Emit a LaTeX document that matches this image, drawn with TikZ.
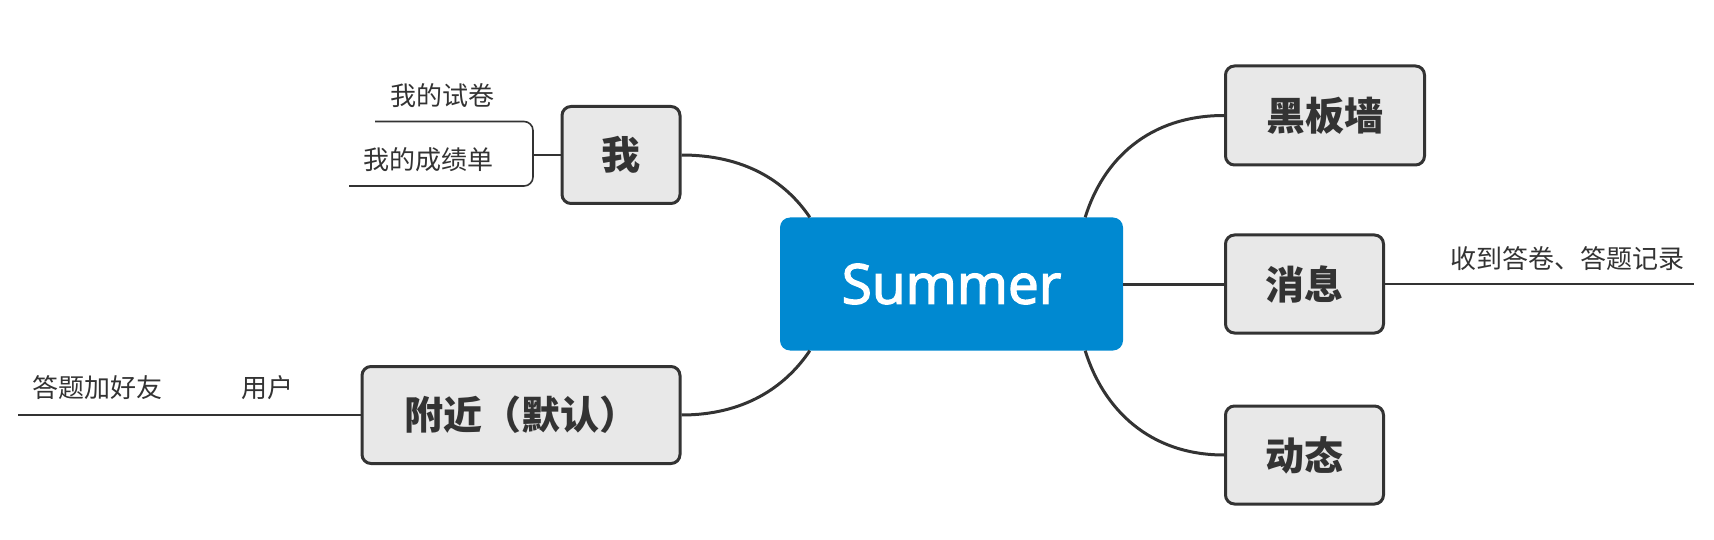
\documentclass[tikz,border=0pt]{standalone}
\usepackage{fontspec}
\setmainfont{Open Sans}
\newfontfamily\sumfont{Open Sans}[BoldFont={*},BoldFeatures={FakeBold=2.5}]
\newfontfamily\cjk{Noto Sans CJK SC}
\usetikzlibrary{calc}
\definecolor{sumblue}{HTML}{0089D1}
\definecolor{boxgray}{HTML}{E8E8E8}
\definecolor{ink}{HTML}{333333}
\begin{document}
\begin{tikzpicture}[x=1pt,y=-1pt,
  topic/.style={draw=ink, line width=3pt, fill=boxgray, rounded corners=9pt, inner sep=0pt, text=ink, font=\cjk\bfseries\fontsize{39}{44}\selectfont},
  central/.style={fill=sumblue, rounded corners=10pt, inner sep=0pt, minimum width=343pt, minimum height=133pt, text=white, font=\sumfont\bfseries\fontsize{55}{60}\selectfont},
  branch/.style={draw=ink, line width=3pt},
  twig/.style={draw=ink, line width=1.6pt},
  leaf/.style={text=ink, inner sep=0pt, font=\cjk\fontsize{26}{30}\selectfont}]
\useasboundingbox (0,0) rectangle (1714,540);
% main topic
\node[central] (sum) at (951.5,284) {Summer};
% topics
\node[topic, minimum width=118pt, minimum height=97pt] (wo) at (621,155) {我};
\node[topic, minimum width=318pt, minimum height=97pt] (fj) at (521,415) {附近（默认）};
\node[topic, minimum width=199pt, minimum height=99pt] (hb) at (1325,115.5) {黑板墙};
\node[topic, minimum width=158pt, minimum height=98pt] (xx) at (1304.5,284) {消息};
\node[topic, minimum width=158pt, minimum height=98pt] (dt) at (1304.5,455) {动态};
% attach points on central box
\coordinate (sTL) at ($(sum.north west)+(30,0)$);
\coordinate (sTR) at ($(sum.north east)+(-38,0)$);
\coordinate (sBL) at ($(sum.south west)+(30,0)$);
\coordinate (sBR) at ($(sum.south east)+(-38,0)$);
% branches
\draw[branch] (wo.east) .. controls ($(wo.east)+(62,0)$) and ($(sTL)+(-25,-37)$) .. (sTL);
\draw[branch] (fj.east) .. controls ($(fj.east)+(62,0)$) and ($(sBL)+(-25,37)$) .. (sBL);
\draw[branch] (sTR) .. controls ($(sTR)+(18,-58)$) and ($(hb.west)+(-75,0)$) .. (hb.west);
\draw[branch] (sBR) .. controls ($(sBR)+(18,58)$) and ($(dt.west)+(-75,0)$) .. (dt.west);
\draw[branch] (sum.east) -- (xx.west);
% sub-topic lines
\coordinate (bk) at (533,155);
\coordinate (bkTop) at (375,121.5);
\coordinate (bkBot) at (349,186);
\draw[twig] (wo.west) -- (bk);
\draw[twig, rounded corners=9pt] (bkTop) -- (533,121.5) -- (533,186) -- (bkBot);
\coordinate (fjEnd) at (17.5,415);
\draw[twig] (fj.west) -- (fjEnd);
\coordinate (xxEnd) at (1694,284);
\draw[twig] (xx.east) -- (xxEnd);
% sub-topic labels
\node[leaf] (t1) at (442,96) {我的试卷};
\node[leaf] (t2) at (428.5,160) {我的成绩单};
\node[leaf] (t3) at (97,388) {答题加好友};
\node[leaf] (t4) at (267,388) {用户};
\node[leaf] (t5) at (1567,259) {收到答卷、答题记录};
\end{tikzpicture}
\end{document}
